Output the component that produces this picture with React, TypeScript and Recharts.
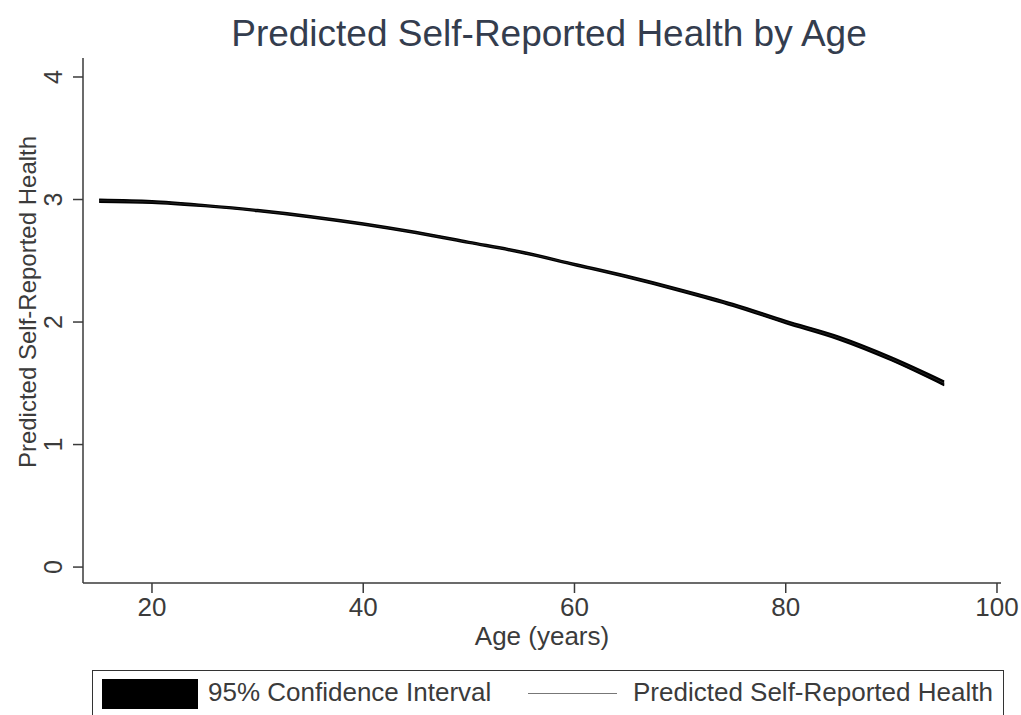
import React from 'react';
import { ComposedChart, Area, Line, XAxis, YAxis } from 'recharts';

// values
const ages = [15, 20, 25, 30, 35, 40, 45, 50, 55, 60, 65, 70, 75, 80, 85, 90, 95];
const predicted = [2.99, 2.98, 2.95, 2.91, 2.86, 2.8, 2.73, 2.65, 2.57, 2.47, 2.37, 2.26, 2.14, 2.0, 1.87, 1.7, 1.5];
const ciLower = [2.978, 2.97, 2.942, 2.902, 2.852, 2.792, 2.722, 2.642, 2.562, 2.462, 2.361, 2.25, 2.129, 1.988, 1.856, 1.685, 1.482];
const ciUpper = [3.002, 2.99, 2.958, 2.918, 2.868, 2.808, 2.738, 2.658, 2.578, 2.478, 2.379, 2.27, 2.151, 2.012, 1.884, 1.715, 1.518];
const xTicks = [20, 40, 60, 80, 100];
const yTicks = [0, 1, 2, 3, 4];

const data = ages.map((age, i) => ({
  age,
  pred: predicted[i],
  ci: [ciLower[i], ciUpper[i]],
}));

const FONT = '"Liberation Sans", Arial, sans-serif';
const TEXT = '#3b3b3b';
const AXIS = '#3a3a3a';

// Stata draws the y labels turned on their side
function YTick(props: any) {
  const { y, payload } = props;
  const bx = 62;
  return (
    <text
      x={bx}
      y={y}
      transform={`rotate(-90, ${bx}, ${y})`}
      textAnchor="middle"
      fontSize={25}
      fontFamily={FONT}
      fill={TEXT}
    >
      {payload.value}
    </text>
  );
}

function YTitle() {
  return (
    <text
      x={36}
      y={302}
      transform="rotate(-90, 36, 302)"
      textAnchor="middle"
      fontSize={24}
      fontFamily={FONT}
      fill={TEXT}
    >
      Predicted Self-Reported Health
    </text>
  );
}

export default function App() {
  return (
    <div
      style={{
        position: 'absolute',
        left: 0,
        top: 0,
        width: 1021,
        height: 715,
        overflow: 'hidden',
        background: '#fff',
        fontFamily: FONT,
      }}
    >
      <div
        style={{
          position: 'absolute',
          left: 0,
          top: 13,
          width: 1098,
          textAlign: 'center',
          fontSize: 37,
          color: '#343d4e',
          whiteSpace: 'nowrap',
        }}
      >
        Predicted Self-Reported Health by Age
      </div>
      <ComposedChart
        width={1021}
        height={715}
        data={data}
        margin={{ top: 58, right: 20, bottom: 0, left: 0 }}
      >
        <XAxis
          dataKey="age"
          type="number"
          domain={[13.47, 100.38]}
          ticks={xTicks}
          allowDataOverflow
          height={132}
          stroke={AXIS}
          strokeWidth={1.5}
          tickSize={10}
          tickMargin={5}
          tick={{ fontSize: 26, fontFamily: FONT, fill: TEXT }}
          label={{
            value: 'Age (years)',
            position: 'insideTop',
            offset: 44,
            fontSize: 26,
            fontFamily: FONT,
            fill: TEXT,
          }}
        />
        <YAxis
          type="number"
          domain={[-0.13, 4.155]}
          ticks={yTicks}
          allowDataOverflow
          width={83}
          stroke={AXIS}
          strokeWidth={1.5}
          tickSize={10}
          tick={<YTick />}
          label={<YTitle />}
        />
        <Area
          dataKey="ci"
          type="monotone"
          fill="#000"
          fillOpacity={1}
          stroke="#000"
          strokeWidth={1.5}
          isAnimationActive={false}
        />
        <Line
          dataKey="pred"
          type="monotone"
          stroke="#222"
          strokeWidth={1}
          dot={false}
          isAnimationActive={false}
        />
      </ComposedChart>
      <div
        style={{
          position: 'absolute',
          left: 92,
          top: 670,
          width: 912,
          height: 70,
          border: '1.5px solid #333',
          boxSizing: 'border-box',
        }}
      />
      <div style={{ position: 'absolute', left: 102, top: 679, width: 96, height: 30, background: '#000' }} />
      <div style={{ position: 'absolute', left: 208, top: 677, fontSize: 26, color: TEXT, whiteSpace: 'nowrap' }}>
        95% Confidence Interval
      </div>
      <div style={{ position: 'absolute', left: 528, top: 693, width: 89, height: 1, background: '#777' }} />
      <div style={{ position: 'absolute', left: 633, top: 677, fontSize: 26, color: TEXT, whiteSpace: 'nowrap' }}>
        Predicted Self-Reported Health
      </div>
    </div>
  );
}
